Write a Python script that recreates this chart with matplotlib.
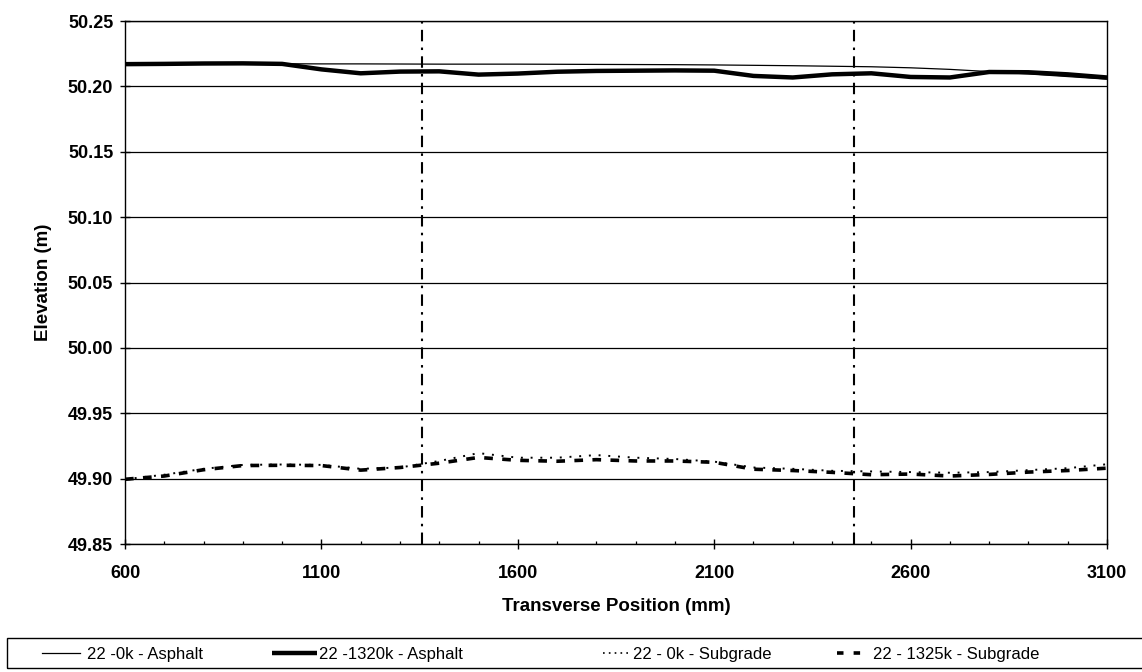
import matplotlib
matplotlib.use("Agg")
import matplotlib.pyplot as plt
from matplotlib.lines import Line2D
from matplotlib.patches import Rectangle
from matplotlib.ticker import MultipleLocator, FixedLocator

plt.rcParams['font.family'] = ['Liberation Sans', 'DejaVu Sans']

# Transverse positions (mm)
position = [600, 700, 800, 900, 1000, 1100, 1200, 1300, 1400, 1500, 1600, 1700, 1800,
            1900, 2000, 2100, 2200, 2300, 2400, 2500, 2600, 2700, 2800, 2900, 3000, 3100]

# Elevations (m)
asphalt_0k = [50.2170, 50.2170, 50.2172, 50.2173, 50.2173, 50.2172, 50.2172, 50.2171, 50.2170,
              50.2170, 50.2170, 50.2169, 50.2168, 50.2167, 50.2166, 50.2164, 50.2161, 50.2158,
              50.2154, 50.2150, 50.2142, 50.2130, 50.2113, 50.2095, 50.2075, 50.2055]
asphalt_1320k = [50.2170, 50.2172, 50.2175, 50.2176, 50.2172, 50.2130, 50.2100, 50.2113, 50.2115,
                 50.2090, 50.2098, 50.2112, 50.2118, 50.2120, 50.2122, 50.2120, 50.2080, 50.2068,
                 50.2092, 50.2100, 50.2072, 50.2068, 50.2110, 50.2108, 50.2092, 50.2068]
subgrade_0k = [49.8995, 49.9030, 49.9075, 49.9105, 49.9108, 49.9105, 49.9075, 49.9085, 49.9135,
               49.9195, 49.9160, 49.9160, 49.9180, 49.9160, 49.9150, 49.9130, 49.9085, 49.9075,
               49.9060, 49.9055, 49.9050, 49.9045, 49.9050, 49.9065, 49.9080, 49.9110]
subgrade_1325k = [49.8995, 49.9020, 49.9068, 49.9100, 49.9102, 49.9100, 49.9065, 49.9085, 49.9118,
                  49.9162, 49.9140, 49.9133, 49.9145, 49.9135, 49.9135, 49.9125, 49.9072, 49.9062,
                  49.9048, 49.9030, 49.9035, 49.9020, 49.9032, 49.9050, 49.9062, 49.9080]

wheel_paths = [1355, 2455]

x_ticks = [600, 1100, 1600, 2100, 2600, 3100]
y_ticks = [49.85, 49.90, 49.95, 50.00, 50.05, 50.10, 50.15, 50.20, 50.25]

labels = ["22 -0k - Asphalt", "22 -1320k - Asphalt", "22 - 0k - Subgrade", "22 - 1325k - Subgrade"]

W, H = 1142, 672
fig = plt.figure(figsize=(W / 100, H / 100), dpi=100)
fig.patch.set_facecolor('white')
ax = fig.add_axes([125 / W, 1 - 544 / H, 982 / W, 523 / H])

ax.set_xlim(600, 3100)
ax.set_ylim(49.85, 50.25)

# horizontal gridlines
for yv in y_ticks:
    ax.axhline(yv, color='black', lw=0.9, zorder=1)

# wheel-path markers
for xv in wheel_paths:
    ax.axvline(xv, color='black', lw=1.5, linestyle=(0, (5.5, 3, 1.2, 3)), zorder=2)

ax.plot(position, asphalt_0k, color='black', lw=0.9, zorder=3)
ax.plot(position, asphalt_1320k, color='black', lw=3.2, zorder=4, solid_capstyle='butt')
ax.plot(position, subgrade_0k, color='black', lw=1.4, linestyle=(0, (1, 4)), zorder=3)
ax.plot(position, subgrade_1325k, color='black', lw=2.6, linestyle=(0, (2.4, 2.6)), zorder=4)

for s in ax.spines.values():
    s.set_color('black')
    s.set_linewidth(1.0)

ax.xaxis.set_major_locator(FixedLocator(x_ticks))
ax.xaxis.set_minor_locator(MultipleLocator(100))
ax.yaxis.set_major_locator(FixedLocator(y_ticks))
ax.set_xticklabels([str(v) for v in x_ticks])
ax.set_yticklabels([f"{v:.2f}" for v in y_ticks])

tick_font = dict(fontsize=13, fontweight='bold')
ax.tick_params(axis='both', which='major', direction='inout', length=7, width=1.0,
               labelsize=13, color='black')
ax.tick_params(axis='x', which='major', pad=11.5)
ax.tick_params(axis='y', which='major', pad=5)
ax.tick_params(axis='x', which='minor', direction='in', length=2.5, width=0.9)
ax.tick_params(axis='y', which='minor', left=False)
for lab in ax.get_xticklabels() + ax.get_yticklabels():
    lab.set_fontweight('bold')

ax.set_xlabel("Transverse Position (mm)", fontsize=13.5, fontweight='bold')
ax.set_ylabel("Elevation (m)", fontsize=13.5, fontweight='bold')
ax.xaxis.set_label_coords(0.5, -0.103)
ax.yaxis.set_label_coords(-0.074, 0.5)

# legend strip below the chart
fig.patches.append(Rectangle((7 / W, 1 - 668 / H), 1.05, 30 / H, transform=fig.transFigure,
                             fill=False, edgecolor='black', lw=1.0))

handles = [
    Line2D([], [], color='black', lw=0.9),
    Line2D([], [], color='black', lw=3.2, solid_capstyle='butt'),
    Line2D([], [], color='black', lw=1.2, linestyle=(0, (1, 2.5))),
    Line2D([], [], color='black', lw=2.6, linestyle=(0, (1.8, 2.8))),
]
anchors_x = [42, 272, 603, 837]
handle_len = [2.3, 2.7, 1.55, 1.45]
text_pad = [0.4, 0.1, 0.25, 0.7]
yc = 1 - 654 / H
for h, lab, xa, hl, tp in zip(handles, labels, anchors_x, handle_len, text_pad):
    fig.legend(handles=[h], labels=[lab], loc='center left', bbox_to_anchor=(xa / W, yc),
               frameon=False, borderpad=0, borderaxespad=0, handlelength=hl,
               handletextpad=tp, fontsize=12)

fig.savefig("out.png", dpi=100, facecolor='white')
